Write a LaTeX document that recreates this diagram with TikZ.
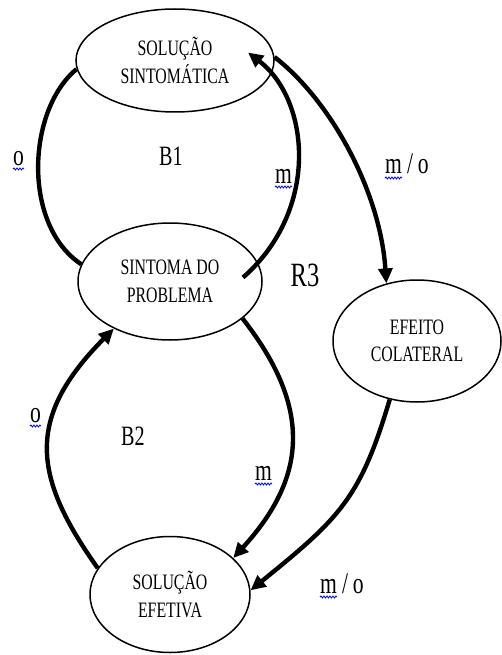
\documentclass[tikz,border=0pt]{standalone}
\usepackage{fontspec}
\setmainfont[FakeStretch=0.72]{Liberation Serif}
\usetikzlibrary{shapes.geometric,arrows.meta,decorations.pathmorphing}

\begin{document}
\begin{tikzpicture}[x=1pt,y=-1pt,
  state/.style={draw,ellipse,line width=1.5pt,inner sep=0pt,align=center,
    font=\fontsize{22}{27.5}\selectfont},
  link/.style={line width=4.4pt},
  arrowlink/.style={link,-{Triangle[length=15pt,width=14pt]}},
  loopname/.style={inner sep=0pt,font=\fontsize{28}{32}\selectfont},
  polarity/.style={inner sep=0pt,anchor=base west,font=\fontsize{30}{34}\selectfont},
  squiggle/.style={draw=blue,line width=0.8pt,decorate,
    decoration={snake,segment length=3pt,amplitude=1pt}}]

\useasboundingbox (0,0) rectangle (502,655);

% variables
\node[state,minimum width=198pt,minimum height=103pt] (ss) at (175,60.5) {SOLUÇÃO\\SINTOMÁTICA};
\node[state,minimum width=184pt,minimum height=117pt] (sp) at (170,281.5) {SINTOMA DO\\PROBLEMA};
\node[state,minimum width=168pt,minimum height=122pt] (ec) at (417,341) {EFEITO\\COLATERAL};
\node[state,minimum width=160pt,minimum height=116pt] (se) at (170,594.5) {SOLUÇÃO\\EFETIVA};

% loop B1
\draw[link] (ss.185) .. controls (27,110) and (22,225) .. (sp.169);
\draw[arrowlink] ([shift={(73,-4)}]sp.center) .. controls (320,210) and (310,100) .. ([shift={(73,-8)}]ss.center);
% side effect link
\draw[arrowlink] (ss.2) .. controls (330,100) and (380,190) .. (ec.118);
% loop B2
\draw[arrowlink] (sp.-27) .. controls (311,406) and (308.6,475.7) .. (se.30);
\draw[arrowlink] (se.160) .. controls (33,477) and (24.7,418.3) .. (sp.220);
% side effect back to the fundamental solution
\draw[arrowlink] (ec.245) .. controls (360.3,498.2) and (340.3,517.5) .. (se.3);

% loop names
\node[loopname] (b1) at (171,156) {B1};
\node[loopname] (b2) at (133,436) {B2};
\node[loopname,font=\fontsize{34}{38}\selectfont] (r3) at (305,275) {R3};

% link polarities
\node[polarity] (p1) at (13,165) {o};
\node[polarity] (p2) at (275,183) {m};
\node[polarity] (p3) at (385,174) {\spaceskip=5pt m / o};
\node[polarity] (p4) at (30,422) {o};
\node[polarity] (p5) at (255,480) {m};
\node[polarity] (p6) at (320,593) {\spaceskip=5pt m / o};

% spell-check underlines
\path[squiggle] ([yshift=-4pt]p1.base west) -- ([yshift=-4pt]p1.base east);
\path[squiggle] ([yshift=-4pt]p2.base west) -- ([yshift=-4pt]p2.base east);
\path[squiggle] ([yshift=-4pt]p3.base west) -- ([xshift=17pt,yshift=-4pt]p3.base west);
\path[squiggle] ([yshift=-4pt]p4.base west) -- ([yshift=-4pt]p4.base east);
\path[squiggle] ([yshift=-4pt]p5.base west) -- ([yshift=-4pt]p5.base east);
\path[squiggle] ([yshift=-4pt]p6.base west) -- ([xshift=17pt,yshift=-4pt]p6.base west);
\end{tikzpicture}
\end{document}
